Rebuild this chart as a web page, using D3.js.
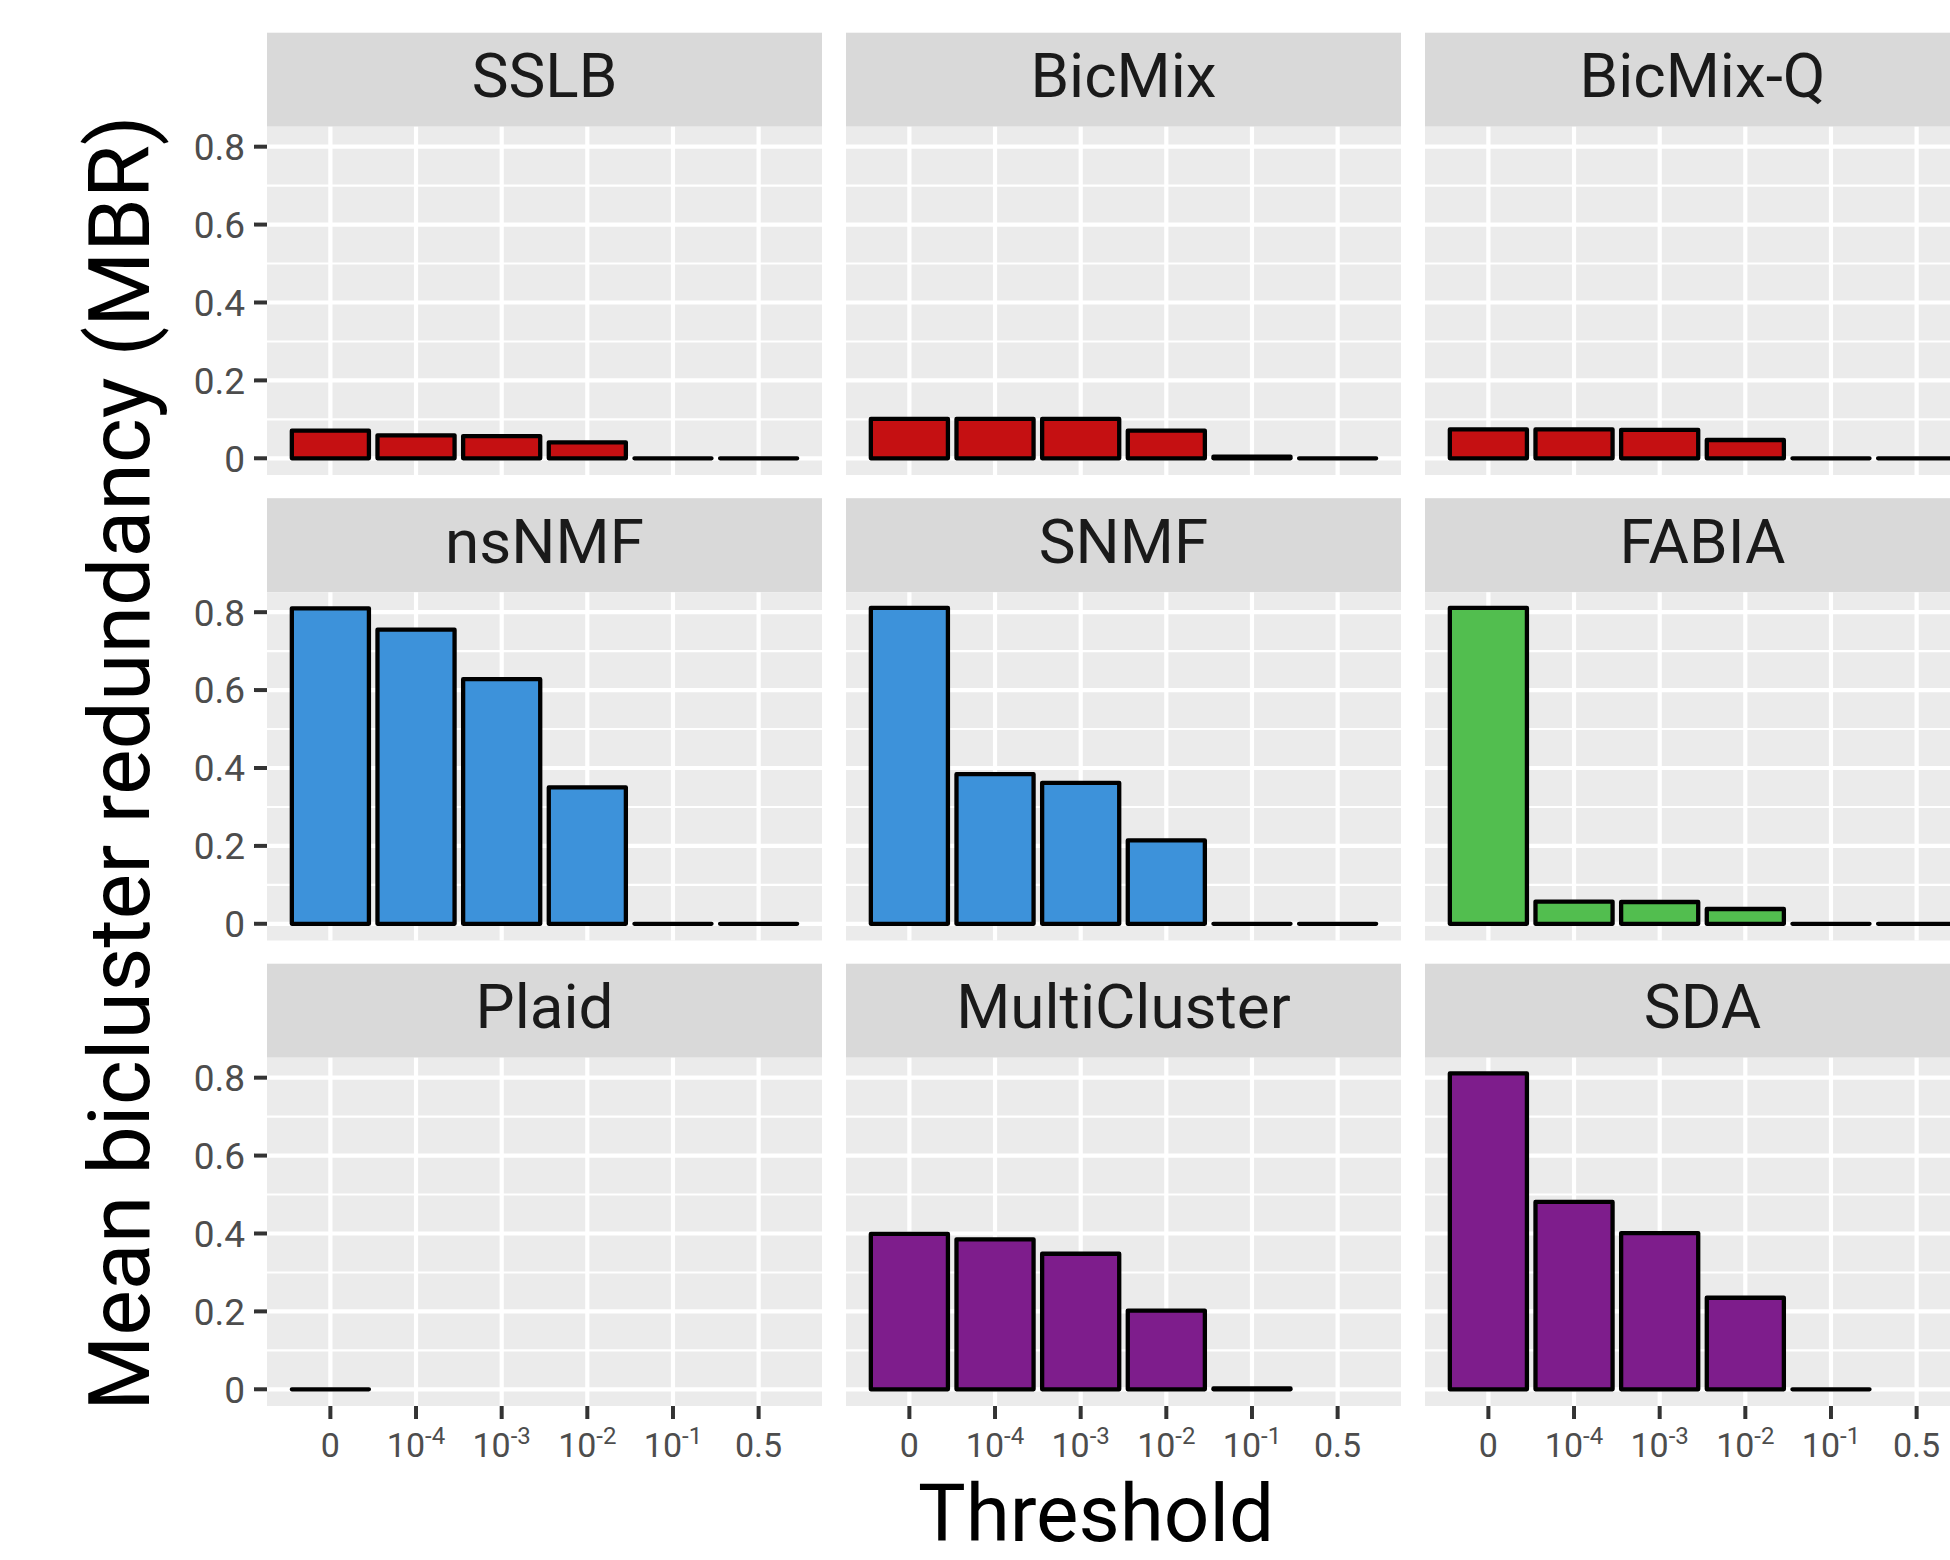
<!DOCTYPE html>
<html>
<head>
<meta charset="utf-8">
<script src="https://cdn.jsdelivr.net/npm/d3@7"></script>
<style>
  html, body { margin: 0; padding: 0; background: #ffffff; }
  svg { display: block; }
</style>
</head>
<body>
<div id="chart"></div>
<script>
// Threshold categories on the x axis and their printed labels (base + optional exponent)
const thresholds = ["0", "1e-4", "1e-3", "1e-2", "1e-1", "0.5"];
const tickBase = ["0", "10", "10", "10", "10", "0.5"];
const tickExp = ["", "-4", "-3", "-2", "-1", ""];

// Facet order (row by row)
const methods = ["SSLB", "BicMix", "BicMix-Q", "nsNMF", "SNMF", "FABIA", "Plaid", "MultiCluster", "SDA"];

// Fill colour group of each method
const methodGroup = [0, 0, 0, 1, 1, 2, 3, 3, 3];
const groupColors = ["#C51012", "#3D92DA", "#52BE4F", "#7E1D8C"];

// Mean bicluster redundancy per threshold (null = not available)
const sslb = [0.071, 0.059, 0.057, 0.041, 0, 0];
const bicmix = [0.101, 0.101, 0.101, 0.071, 0.004, 0];
const bicmixQ = [0.074, 0.074, 0.073, 0.047, 0, 0];
const nsnmf = [0.810, 0.755, 0.628, 0.350, 0, 0];
const snmf = [0.811, 0.384, 0.362, 0.214, 0, 0];
const fabia = [0.811, 0.057, 0.056, 0.038, 0, 0];
const plaid = [0, null, null, null, null, null];
const multicluster = [0.399, 0.385, 0.348, 0.202, 0.002, null];
const sda = [0.811, 0.481, 0.401, 0.235, 0, null];

const seriesByMethod = [sslb, bicmix, bicmixQ, nsnmf, snmf, fabia, plaid, multicluster, sda];

// y axis ticks
const yMajor = [0, 0.2, 0.4, 0.6, 0.8];
const yMinor = [0.1, 0.3, 0.5, 0.7];
const yTickText = ["0", "0.2", "0.4", "0.6", "0.8"];

// ---- layout ----
const W = 1950, H = 1560;
const FONT = "Roboto, 'Liberation Sans', sans-serif";
const panelLeft0 = 267, colStep = 579, panelW = 555;
const stripTop0 = 32.7, rowStep = 465.5, stripH = 94, panelH = 348.3;
const nCols = 3, nRows = 3;

const svg = d3.select("#chart").append("svg")
  .attr("width", W).attr("height", H)
  .attr("viewBox", `0 0 ${W} ${H}`);

svg.append("rect").attr("width", W).attr("height", H).attr("fill", "#ffffff");

const x = d3.scalePoint().domain(thresholds).range([0, panelW]).padding(0.74);
const barW = x.step() * 0.9;
const y = d3.scaleLinear().domain([-0.0429, 0.8513]).range([panelH, 0]);

function barPath(cx, v) {
  const x0 = cx - barW / 2, x1 = cx + barW / 2;
  const yTop = y(Math.max(v, 0)), yBase = y(0);
  return `M${x0},${yBase}L${x0},${yTop}L${x1},${yTop}L${x1},${yBase}Z`;
}

methods.forEach((name, i) => {
  const col = i % nCols, row = Math.floor(i / nCols);
  const px = panelLeft0 + col * colStep;
  const stripTop = stripTop0 + row * rowStep;
  const py = stripTop + stripH;

  // strip
  svg.append("rect")
    .attr("x", px).attr("y", stripTop)
    .attr("width", panelW).attr("height", stripH)
    .attr("fill", "#D9D9D9");
  svg.append("text")
    .attr("x", px + panelW / 2).attr("y", stripTop + 64.6)
    .attr("text-anchor", "middle")
    .attr("font-family", FONT).attr("font-size", 62)
    .attr("fill", "#1A1A1A")
    .text(name);

  const g = svg.append("g").attr("transform", `translate(${px},${py})`);

  // panel background and grid
  g.append("rect").attr("width", panelW).attr("height", panelH).attr("fill", "#EBEBEB");
  g.selectAll("line.minor").data(yMinor).join("line")
    .attr("x1", 0).attr("x2", panelW)
    .attr("y1", d => y(d)).attr("y2", d => y(d))
    .attr("stroke", "#ffffff").attr("stroke-width", 2.1);
  g.selectAll("line.major").data(yMajor).join("line")
    .attr("x1", 0).attr("x2", panelW)
    .attr("y1", d => y(d)).attr("y2", d => y(d))
    .attr("stroke", "#ffffff").attr("stroke-width", 4.2);
  g.selectAll("line.vmajor").data(thresholds).join("line")
    .attr("x1", d => x(d)).attr("x2", d => x(d))
    .attr("y1", 0).attr("y2", panelH)
    .attr("stroke", "#ffffff").attr("stroke-width", 4.2);

  // bars
  const vals = seriesByMethod[i];
  const color = groupColors[methodGroup[i]];
  const data = thresholds.map((t, k) => ({ t, v: vals[k] })).filter(d => d.v !== null);
  g.selectAll("path.bar").data(data).join("path")
    .attr("d", d => barPath(x(d.t), d.v))
    .attr("fill", color)
    .attr("stroke", "#000000")
    .attr("stroke-width", 4.3)
    .attr("stroke-linejoin", "round")
    .attr("stroke-linecap", "round");

  // y axis on the first column
  if (col === 0) {
    g.selectAll("line.ytick").data(yMajor).join("line")
      .attr("x1", -13).attr("x2", 0)
      .attr("y1", d => y(d)).attr("y2", d => y(d))
      .attr("stroke", "#333333").attr("stroke-width", 4);
    g.selectAll("text.ylab").data(yMajor).join("text")
      .attr("x", -22).attr("y", d => y(d))
      .attr("dy", "0.36em")
      .attr("text-anchor", "end")
      .attr("font-family", FONT).attr("font-size", 37)
      .attr("fill", "#4D4D4D")
      .text((d, k) => yTickText[k]);
  }

  // x axis on the bottom row
  if (row === nRows - 1) {
    g.selectAll("line.xtick").data(thresholds).join("line")
      .attr("x1", d => x(d)).attr("x2", d => x(d))
      .attr("y1", panelH).attr("y2", panelH + 13)
      .attr("stroke", "#333333").attr("stroke-width", 4);
    const lab = g.selectAll("text.xlab").data(thresholds).join("text")
      .attr("x", d => x(d)).attr("y", panelH + 51)
      .attr("text-anchor", "middle")
      .attr("font-family", FONT).attr("font-size", 34)
      .attr("fill", "#4D4D4D");
    lab.each(function (d, k) {
      const t = d3.select(this);
      t.append("tspan").text(tickBase[k]);
      if (tickExp[k]) {
        t.append("tspan").attr("dy", -13).attr("font-size", 24).text(tickExp[k]);
      }
    });
  }
});

// axis titles
svg.append("text")
  .attr("x", 1096).attr("y", 1541)
  .attr("text-anchor", "middle")
  .attr("font-family", FONT).attr("font-size", 80)
  .attr("fill", "#000000")
  .text("Threshold");

svg.append("text")
  .attr("transform", "translate(149,763) rotate(-90)")
  .attr("text-anchor", "middle")
  .attr("font-family", FONT).attr("font-size", 86)
  .attr("fill", "#000000")
  .text("Mean bicluster redundancy (MBR)");
</script>
</body>
</html>
